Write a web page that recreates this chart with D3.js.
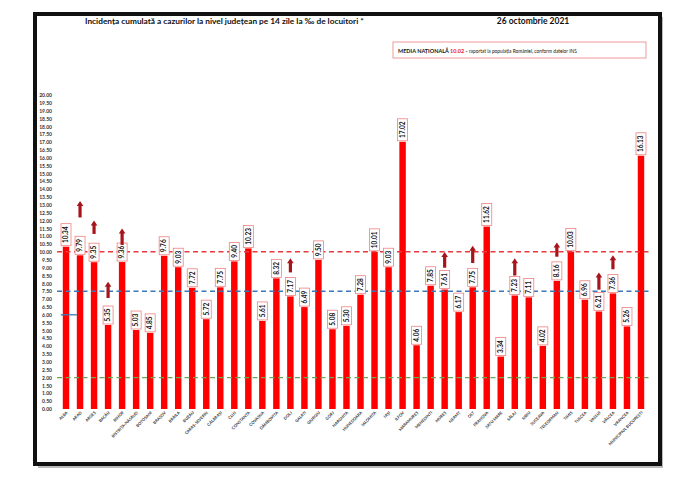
<!DOCTYPE html>
<html><head><meta charset="utf-8">
<script src="https://cdn.jsdelivr.net/npm/d3@7"></script>
<style>body{margin:0;background:#fff}svg{display:block}</style>
</head><body>
<script>
const counties = ["ALBA","ARAD","ARGEȘ","BACĂU","BIHOR","BISTRIȚA-NĂSĂUD","BOTOȘANI","BRAȘOV","BRĂILA","BUZĂU","CARAȘ-SEVERIN","CĂLĂRAȘI","CLUJ","CONSTANȚA","COVASNA","DÂMBOVIȚA","DOLJ","GALAȚI","GIURGIU","GORJ","HARGHITA","HUNEDOARA","IALOMIȚA","IAȘI","ILFOV","MARAMUREȘ","MEHEDINȚI","MUREȘ","NEAMȚ","OLT","PRAHOVA","SATU MARE","SĂLAJ","SIBIU","SUCEAVA","TELEORMAN","TIMIȘ","TULCEA","VASLUI","VÂLCEA","VRANCEA","MUNICIPIUL BUCUREȘTI"];
const values = [10.34,9.79,9.35,5.35,9.36,5.03,4.85,9.76,9.03,7.72,5.72,7.75,9.40,10.23,5.61,8.32,7.17,6.49,9.50,5.08,5.30,7.28,10.01,9.03,17.02,4.06,7.85,7.61,6.17,7.75,11.62,3.34,7.23,7.11,4.02,8.16,10.03,6.96,6.21,7.36,5.26,16.13];
const arrowCounties = ["ARAD","ARGEȘ","BACĂU","BIHOR","DOLJ","MUREȘ","OLT","SĂLAJ","TELEORMAN","VASLUI","VÂLCEA"];
const arrowFrom = [12.2,11.15,7.07,10.45,8.7,9.0,9.3,8.5,9.7,7.6,8.9];
const arrowTo   = [13.25,12.0,8.1,11.5,9.6,10.0,10.4,9.6,10.6,8.7,9.8];
const yTicks = d3.range(0,20.001,0.5);
const nationalAvg = 10.02;
const refLines = [{v:10.02,c:"#e8383d"},{v:7.5,c:"#3a78b8"},{v:2.0,c:"#6aa84f"}];
const titleText = "Incidența cumulată a cazurilor la nivel județean pe 14 zile la ‰ de locuitori *";
const dateText = "26 octombrie 2021";

const W=700,H=493;
const svg=d3.select("body").append("svg").attr("width",W).attr("height",H);
const font="Lato, 'Open Sans', sans-serif";

// frame with shadow
svg.append("rect").attr("x",38).attr("y",17).attr("width",625).attr("height",451).attr("fill","#bbb");
svg.append("rect").attr("x",35).attr("y",14).attr("width",625).attr("height",450).attr("fill","#fff").attr("stroke","#111").attr("stroke-width",4);

const x=d3.scaleBand().domain(counties).range([59,648]).paddingInner(0.54).paddingOuter(0.27);
const y=d3.scaleLinear().domain([0,20]).range([409,95]);

// y axis
const ya=svg.append("g").attr("transform","translate(53,0)")
  .call(d3.axisLeft(y).tickValues(yTicks).tickFormat(d3.format(".2f")).tickSize(0).tickPadding(1));
ya.select(".domain").remove();
ya.selectAll("text").attr("font-family",font).attr("font-size",5).attr("font-weight","bold").attr("fill","#333");

// bars
svg.append("g").selectAll("rect").data(counties).join("rect")
  .attr("x",d=>x(d)).attr("width",x.bandwidth())
  .attr("y",(d,i)=>y(values[i])).attr("height",(d,i)=>y(0)-y(values[i]))
  .attr("fill","#ff0000");

// reference lines
refLines.forEach(r=>{
  svg.append("line").attr("x1",57).attr("x2",650).attr("y1",y(r.v)).attr("y2",y(r.v))
    .attr("stroke",r.c).attr("stroke-width",1.4).attr("stroke-dasharray","5,3.5");
});
// small blue mark near ALBA
svg.append("line").attr("x1",x("ALBA")-2).attr("x2",x("ARAD")).attr("y1",y(6)).attr("y2",y(6))
  .attr("stroke","#3a78b8").attr("stroke-width",1.3);

// value labels
const lg=svg.append("g");
counties.forEach((c,i)=>{
  const txt=values[i].toFixed(2);
  const cx=x(c)+x.bandwidth()/2;
  const top=y(values[i])-1;
  const hgt=txt.length>4?22:18;
  lg.append("rect").attr("x",cx-5).attr("y",top-hgt).attr("width",10).attr("height",hgt)
    .attr("fill","#fff").attr("stroke","#f08080").attr("stroke-width",0.8);
  lg.append("text").attr("transform",`translate(${cx+2.3},${top-hgt/2}) rotate(-90)`)
    .attr("text-anchor","middle").attr("font-family",font).attr("font-size",6.5).attr("font-weight","bold")
    .attr("fill","#111").text(txt);
});

// arrows
const ag=svg.append("g").attr("fill","#a8141c");
arrowCounties.forEach((c,i)=>{
  const cx=x(c)+x.bandwidth()/2;
  const yb=y(arrowFrom[i]), yt=y(arrowTo[i]);
  ag.append("rect").attr("x",cx-1.6).attr("y",yt+4).attr("width",3.2).attr("height",yb-yt-4);
  ag.append("path").attr("d",`M${cx-3.3},${yt+5}L${cx},${yt}L${cx+3.3},${yt+5}Z`);
});

// x labels
svg.append("g").selectAll("text").data(counties).join("text")
  .attr("transform",d=>`translate(${x(d)+x.bandwidth()/2+2},${413}) rotate(-45)`)
  .attr("text-anchor","end").attr("font-family",font).attr("font-size",4).attr("font-weight","bold")
  .attr("fill","#333").text(d=>d);

// title & date
svg.append("text").attr("x",85).attr("y",24).attr("font-family",font).attr("font-size",8.3)
  .attr("font-weight","bold").attr("fill","#111").text(titleText);
svg.append("text").attr("x",533).attr("y",24).attr("text-anchor","middle").attr("font-family",font).attr("font-size",8.5)
  .attr("font-weight","bold").attr("fill","#111").text(dateText);

// national average box
svg.append("rect").attr("x",393).attr("y",42).attr("width",253).attr("height",16)
  .attr("fill","#fff").attr("stroke","#e89090").attr("stroke-width",0.9);
const bt=svg.append("text").attr("x",398).attr("y",52.5).attr("font-family",font).attr("font-size",5.5).attr("fill","#111");
bt.append("tspan").attr("font-weight","bold").text("MEDIA NAȚIONALĂ ");
bt.append("tspan").attr("font-weight","bold").attr("fill","#e8202a").text(" "+nationalAvg.toFixed(2));
bt.append("tspan").attr("font-weight","bold").text(" - ");
bt.append("tspan").attr("font-size",4.8).text(" raportat la populația României, conform datelor INS");
</script>
</body></html>
